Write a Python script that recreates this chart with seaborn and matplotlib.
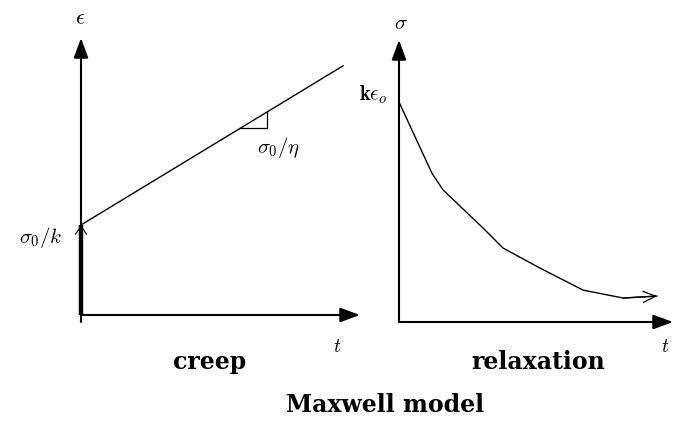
import numpy as np
import pandas as pd
import matplotlib
matplotlib.use('Agg')
import matplotlib.pyplot as plt
import seaborn as sns

# creep: strain vs time (instant jump sigma0/k, then slope sigma0/eta)
creep_t = [0.0, 9.4]
creep_eps = [3.25, 9.0]
jump_t = [0.0, 0.0]
jump_eps = [0.0, 3.25]
slope_t = [5.70, 6.67]

# relaxation: stress vs time, starting at k*eps0
relax_t = [0.0, 1.20, 1.61, 3.07, 3.80, 5.15, 6.72, 8.18, 9.42]
relax_sigma = [7.80, 5.28, 4.68, 3.33, 2.62, 1.91, 1.13, 0.85, 0.92]

W, H = 674, 443

sns.set_theme(style='white')
plt.rcParams['mathtext.fontset'] = 'cm'
plt.rcParams['font.family'] = ['DejaVu Serif']

fig = plt.figure(figsize=(W / 100, H / 100), dpi=100)
fig.patch.set_facecolor('white')

def px_axes(left, right, top, bottom):
    return fig.add_axes([left / W, (H - bottom) / H, (right - left) / W, (bottom - top) / H])

ax1 = px_axes(81, 360, 38, 315)
ax2 = px_axes(399, 673, 40, 322)

head = dict(arrowstyle='-|>,head_length=0.6,head_width=0.22', mutation_scale=20,
            color='black', lw=1.5, shrinkA=0, shrinkB=0)

for ax, ybot in [(ax1, -0.25), (ax2, 0.0)]:
    ax.set_xlim(0, 10)
    ax.set_ylim(0, 10)
    ax.axis('off')
    ax.annotate('', xy=(0, 10), xytext=(0, ybot), arrowprops=head, annotation_clip=False)
    ax.annotate('', xy=(10, 0), xytext=(0, 0), arrowprops=head, annotation_clip=False)

# creep panel
df_creep = pd.DataFrame({'t': creep_t, 'eps': creep_eps})
sns.lineplot(data=df_creep, x='t', y='eps', ax=ax1, color='black', lw=1.0,
             estimator=None, sort=False, clip_on=False)
ax1.plot(jump_t, jump_eps, color='black', lw=3.2, solid_capstyle='butt',
         clip_on=False, zorder=5)
ax1.annotate('', xy=(0, jump_eps[1]), xytext=(0, jump_eps[1] - 0.8),
             arrowprops=dict(arrowstyle='->,head_length=0.3,head_width=0.2',
                             mutation_scale=20, color='black', lw=0.8,
                             shrinkA=0, shrinkB=0))
tri_eps = np.interp(slope_t, creep_t, creep_eps)
ax1.plot([slope_t[0], slope_t[1], slope_t[1]],
         [tri_eps[0], tri_eps[0], tri_eps[1]], color='black', lw=0.9)
ax1.set_xlabel('')
ax1.set_ylabel('')

# relaxation panel
df_relax = pd.DataFrame({'t': relax_t, 'sigma': relax_sigma})
sns.lineplot(data=df_relax, x='t', y='sigma', ax=ax2, color='black', lw=1.0,
             estimator=None, sort=False, clip_on=False)
ax2.annotate('', xy=(relax_t[-1], relax_sigma[-1]), xytext=(relax_t[-2], relax_sigma[-2]),
             arrowprops=dict(arrowstyle='->,head_length=0.45,head_width=0.2',
                             mutation_scale=20, color='black', lw=0.9,
                             shrinkA=0, shrinkB=0))
ax2.set_xlabel('')
ax2.set_ylabel('')

def ftext(x, y, s, **kw):
    fig.text(x / W, 1 - y / H, s, ha='center', va='center', color='black', **kw)

ftext(80, 18, r'$\epsilon$', fontsize=16)
ftext(401, 24, r'$\sigma$', fontsize=15)
ftext(41, 238, r'$\sigma_0/k$', fontsize=15)
ftext(279, 148, r'$\sigma_0/\eta$', fontsize=15)
ftext(373, 95, r'$\mathbf{k}\epsilon_o$', fontsize=15)
ftext(337, 347, r'$t$', fontsize=14)
ftext(665, 347, r'$t$', fontsize=14)
ftext(210, 362, 'creep', fontsize=17, fontweight='bold')
ftext(538, 362, 'relaxation', fontsize=17, fontweight='bold')
ftext(385, 405, 'Maxwell model', fontsize=17, fontweight='bold')

fig.savefig('out.png', dpi=100, facecolor='white')
